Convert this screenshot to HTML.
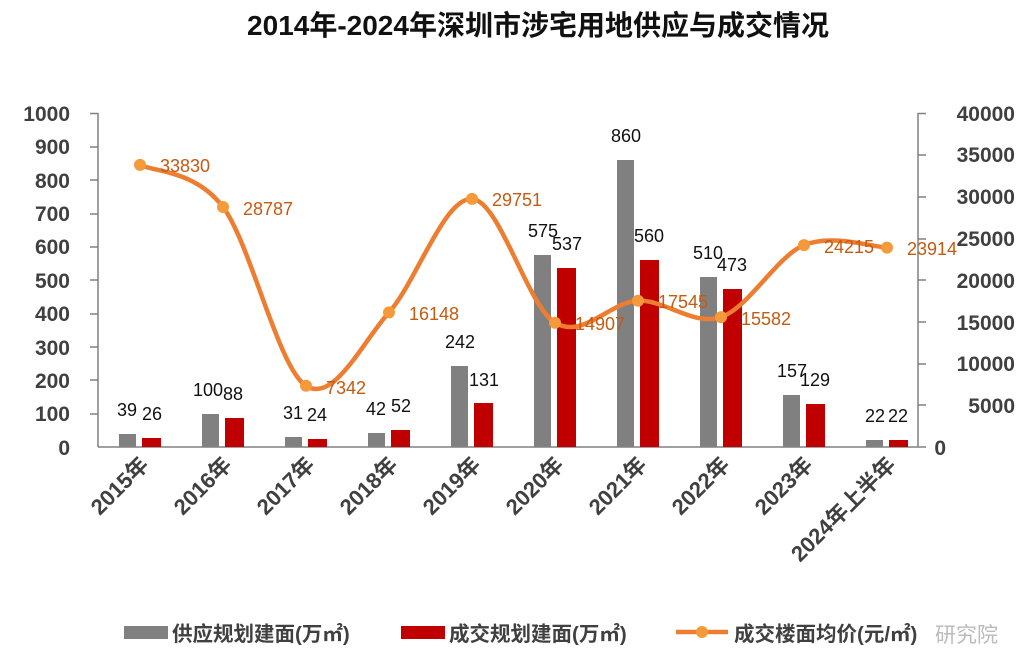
<!DOCTYPE html>
<html><head><meta charset="utf-8"><style>
body{margin:0;background:#fff;}
svg{display:block;font-family:"Liberation Sans","Noto Sans CJK SC",sans-serif;}
</style></head><body>
<svg width="1030" height="665" viewBox="0 0 1030 665">
<text x="538" y="35" text-anchor="middle" font-size="28" font-weight="bold" fill="#111">2014年-2024年深圳市涉宅用地供应与成交情况</text>
<g stroke="#808080" stroke-width="1.5">
<line x1="98" y1="113" x2="98" y2="447"/>
<line x1="98" y1="447" x2="918" y2="447"/>
<line x1="918" y1="113" x2="918" y2="447"/>
<line x1="90" y1="113.5" x2="98" y2="113.5"/><line x1="90" y1="147" x2="98" y2="147"/><line x1="90" y1="180" x2="98" y2="180"/><line x1="90" y1="214" x2="98" y2="214"/><line x1="90" y1="247" x2="98" y2="247"/><line x1="90" y1="280" x2="98" y2="280"/><line x1="90" y1="314" x2="98" y2="314"/><line x1="90" y1="347" x2="98" y2="347"/><line x1="90" y1="380" x2="98" y2="380"/><line x1="90" y1="414" x2="98" y2="414"/>
<line x1="918" y1="113.5" x2="926" y2="113.5"/><line x1="918" y1="155" x2="926" y2="155"/><line x1="918" y1="197" x2="926" y2="197"/><line x1="918" y1="239" x2="926" y2="239"/><line x1="918" y1="280" x2="926" y2="280"/><line x1="918" y1="322" x2="926" y2="322"/><line x1="918" y1="364" x2="926" y2="364"/><line x1="918" y1="405" x2="926" y2="405"/><line x1="918" y1="447" x2="926" y2="447"/>
</g>
<g font-size="21" font-weight="bold" fill="#404040" text-anchor="end">
<text x="70" y="121">1000</text><text x="70" y="154">900</text><text x="70" y="188">800</text><text x="70" y="221">700</text><text x="70" y="254">600</text><text x="70" y="288">500</text><text x="70" y="321">400</text><text x="70" y="355">300</text><text x="70" y="388">200</text><text x="70" y="421">100</text><text x="70" y="455">0</text>
</g>
<g font-size="21" font-weight="bold" fill="#404040" text-anchor="end">
<text x="1015" y="121">40000</text><text x="1015" y="162">35000</text><text x="1015" y="204">30000</text><text x="1015" y="246">25000</text><text x="1015" y="288">20000</text><text x="1015" y="330">15000</text><text x="1015" y="371">10000</text><text x="1015" y="413">5000</text><text x="946" y="455">0</text>
</g>
<g fill="#808080">
<rect x="119" y="434" width="17" height="13"/><rect x="202" y="414" width="17" height="33"/><rect x="285" y="437" width="17" height="10"/><rect x="368" y="433" width="17" height="14"/><rect x="451" y="366" width="17" height="81"/><rect x="534" y="255" width="17" height="192"/><rect x="617" y="160" width="17" height="287"/><rect x="700" y="277" width="17" height="170"/><rect x="783" y="395" width="17" height="52"/><rect x="866" y="440" width="17" height="7"/>
</g>
<g fill="#c00000">
<rect x="142" y="438" width="19" height="9"/><rect x="225" y="418" width="19" height="29"/><rect x="308" y="439" width="19" height="8"/><rect x="391" y="430" width="19" height="17"/><rect x="474" y="403" width="19" height="44"/><rect x="557" y="268" width="19" height="179"/><rect x="640" y="260" width="19" height="187"/><rect x="723" y="289" width="19" height="158"/><rect x="806" y="404" width="19" height="43"/><rect x="889" y="440" width="19" height="7"/>
</g>
<g font-size="18" fill="#111" text-anchor="middle">
<text x="127" y="416">39</text><text x="152" y="420">26</text>
<text x="208" y="396">100</text><text x="233" y="400">88</text>
<text x="293" y="419">31</text><text x="317" y="421">24</text>
<text x="376" y="415">42</text><text x="401" y="412">52</text>
<text x="460" y="348">242</text><text x="484" y="386">131</text>
<text x="543" y="237">575</text><text x="567" y="250">537</text>
<text x="626" y="142">860</text><text x="649" y="242">560</text>
<text x="708" y="259">510</text><text x="732" y="271">473</text>
<text x="792" y="377">157</text><text x="815" y="386">129</text>
<text x="875" y="422">22</text><text x="898" y="422">22</text>
</g>
<path d="M140,164.9 C153.8,171.9 195.3,170.2 223,207 C250.7,243.8 278.3,368.2 306,385.8 C333.7,403.4 361.3,343.6 389,312.4 C416.7,281.2 444.3,197.2 472,198.9 C499.7,200.6 527.3,305.7 555,322.7 C582.7,339.7 610.3,301.6 638,300.7 C665.7,299.8 693.3,326.4 721,317.1 C748.7,307.8 776.3,256.7 804,245.1 C831.7,233.5 873.2,247.2 887,247.6" fill="none" stroke="#ed7d31" stroke-width="4.5"/>
<g fill="#f59a3a">
<circle cx="140" cy="164.9" r="6"/><circle cx="223" cy="207" r="6"/><circle cx="306" cy="385.8" r="6"/><circle cx="389" cy="312.4" r="6"/><circle cx="472" cy="198.9" r="6"/><circle cx="555" cy="322.7" r="6"/><circle cx="638" cy="300.7" r="6"/><circle cx="721" cy="317.1" r="6"/><circle cx="804" cy="245.1" r="6"/><circle cx="887" cy="247.6" r="6"/>
</g>
<g font-size="18" fill="#c55a11">
<text x="160" y="172">33830</text><text x="243" y="215">28787</text><text x="326" y="394">7342</text><text x="409" y="320">16148</text><text x="492" y="206">29751</text><text x="575" y="330">14907</text><text x="658" y="308">17545</text><text x="741" y="325">15582</text><text x="824" y="253">24215</text><text x="907" y="255">23914</text>
</g>
<g font-size="22" font-weight="bold" fill="#404040" text-anchor="end">
<text transform="translate(150,466) rotate(-45)">2015年</text>
<text transform="translate(233,466) rotate(-45)">2016年</text>
<text transform="translate(316,466) rotate(-45)">2017年</text>
<text transform="translate(399,466) rotate(-45)">2018年</text>
<text transform="translate(482,466) rotate(-45)">2019年</text>
<text transform="translate(565,466) rotate(-45)">2020年</text>
<text transform="translate(648,466) rotate(-45)">2021年</text>
<text transform="translate(731,466) rotate(-45)">2022年</text>
<text transform="translate(814,466) rotate(-45)">2023年</text>
<text transform="translate(897,466) rotate(-45)">2024年上半年</text>
</g>
<rect x="124" y="626" width="44" height="13" fill="#808080"/>
<text x="172" y="641" font-size="20.5" font-weight="bold" fill="#404040">供应规划建面(万㎡)</text>
<rect x="401" y="626" width="44" height="13" fill="#c00000"/>
<text x="449" y="641" font-size="20.5" font-weight="bold" fill="#404040">成交规划建面(万㎡)</text>
<line x1="676" y1="632" x2="728" y2="632" stroke="#ed7d31" stroke-width="4.5"/>
<circle cx="702" cy="632" r="6" fill="#f59a3a"/>
<text x="734" y="641" font-size="20.5" font-weight="bold" fill="#404040">成交楼面均价(元/㎡)</text>
<text x="935" y="642" font-size="21" fill="#bbb">研究院</text>
</svg>
</body></html>
